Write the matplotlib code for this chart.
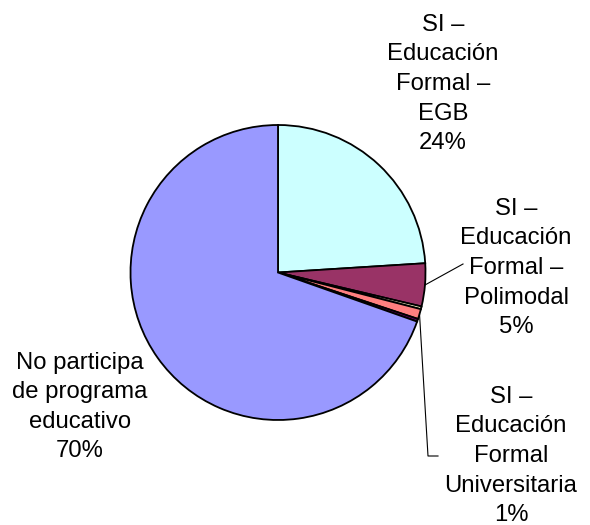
import numpy as np
import matplotlib.pyplot as plt

plt.rcParams['font.family'] = ['Liberation Sans', 'DejaVu Sans']

labels = ['SI –\nEducación\nFormal –\nEGB', 'SI –\nEducación\nFormal –\nPolimodal', '',
          'SI –\nEducación\nFormal\nUniversitaria', '', 'No participa\nde programa\neducativo']
values = [24.0, 4.7, 0.3, 1.1, 0.3, 69.6]
colors = ['#CCFFFF', '#993366', '#FFFFCC', '#FF8080', '#660066', '#9999FF']

W, H = 590, 525
fig = plt.figure(figsize=(W / 100, H / 100), dpi=100)
ax = fig.add_axes([0, 0, 1, 1])

cx, cy, r = 278, H - 272.5, 147.5
wedges, _ = ax.pie(values, colors=colors, startangle=90, counterclock=False,
                   center=(cx, cy), radius=r, frame=True,
                   wedgeprops=dict(edgecolor='black', linewidth=1.3))
ax.set_xlim(0, W)
ax.set_ylim(0, H)
ax.axis('off')

# label block centres (pixel coords, y from top)
label_pos = {0: (443, 84), 1: (516, 268), 3: (511, 456), 5: (80, 407)}
fs = 17.2
for i, (x, y) in label_pos.items():
    pct = f'{round(values[i] / sum(values) * 100):.0f}%'
    ax.text(x, H - y, labels[i] + '\n' + pct, ha='center', va='center',
            fontsize=fs, linespacing=1.45, color='black')

# leader lines
def edge_point(w):
    a = np.deg2rad((w.theta1 + w.theta2) / 2)
    return cx + r * np.cos(a), cy + r * np.sin(a)

px, py = edge_point(wedges[1])
ax.plot([px, 463], [py, H - 264], color='black', lw=0.8)
px, py = edge_point(wedges[3])
ax.plot([px, 428, 438], [py, H - 456, H - 456], color='black', lw=0.8)

fig.savefig('out.png', dpi=100, facecolor='white')
